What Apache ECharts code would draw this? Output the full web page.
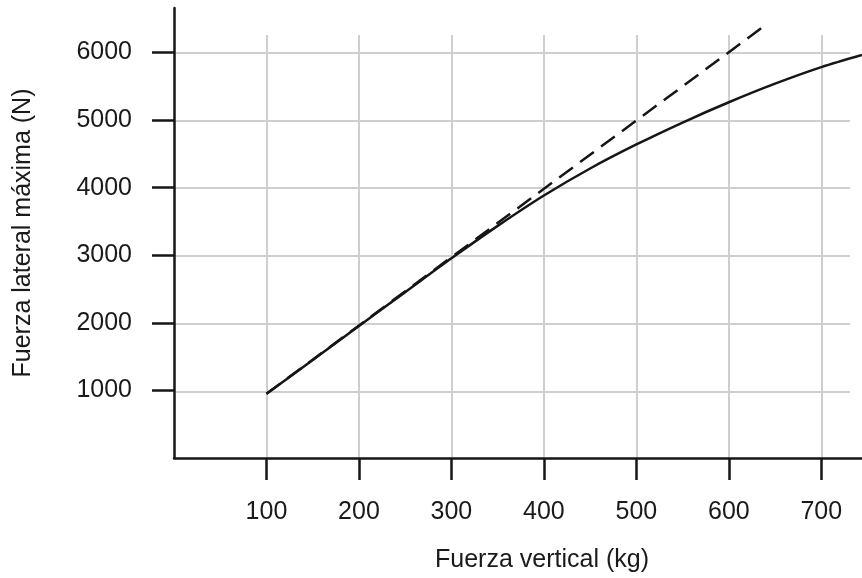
<!DOCTYPE html>
<html>
<head>
<meta charset="utf-8">
<title>Fuerza lateral máxima</title>
<script src="https://cdn.jsdelivr.net/npm/echarts@6/dist/echarts.min.js"></script>
<style>
  html, body { margin: 0; padding: 0; background: #fff; }
  #chart { width: 862px; height: 578px; }
</style>
</head>
<body>
<div id="chart"></div>
<script>
// Vertical load (kg) and the maximum lateral force it allows (N)
const loadKg      = [100, 150, 200, 250, 300, 350, 400, 450, 500, 550, 600, 650, 700, 744];
const lateralN    = [950, 1450, 1955, 2455, 2955, 3435, 3885, 4285, 4640, 4965, 5265, 5540, 5785, 5965];

// Straight proportional reference (dashed)
const linearKg    = [100, 635];
const linearN     = [950, 6360];

// Tick positions and labels
const xTicks = [100, 200, 300, 400, 500, 600, 700];
const yTicks = [1000, 2000, 3000, 4000, 5000, 6000];

const xTitle = 'Fuerza vertical (kg)';
const yTitle = 'Fuerza lateral máxima (N)';

const FONT = 'Liberation Sans, Arial, sans-serif';
const INK = '#161616';
const TEXT = '#1a1a1a';
const GRID_GRAY = '#cfcfcf';

const pair = (xs, ys) => xs.map((x, i) => [x, ys[i]]);
const plain = v => String(v);

const chart = echarts.init(document.getElementById('chart'), null, { renderer: 'canvas' });

chart.setOption({
  animation: false,
  backgroundColor: '#ffffff',
  grid: [
    // plotting area with the axes
    { left: 174, right: 0, top: 8, bottom: 119, containLabel: false },
    // light reference grid, slightly inset from the top and right
    { left: 174, right: 12, top: 35, bottom: 119, containLabel: false }
  ],
  xAxis: [
    {
      type: 'value', gridIndex: 0, min: 0, max: 744, interval: 100,
      axisLine: { show: true, onZero: false, lineStyle: { color: INK, width: 2.5 } },
      axisTick: { show: true, customValues: xTicks, length: 22, inside: false,
                  lineStyle: { color: INK, width: 2.5 } },
      axisLabel: { show: true, customValues: xTicks, margin: 42, formatter: plain,
                   color: TEXT, fontSize: 25, fontFamily: FONT },
      splitLine: { show: false },
      name: xTitle, nameLocation: 'middle', nameGap: 90,
      nameTextStyle: { color: TEXT, fontSize: 25, fontFamily: FONT, padding: [0, 0, 0, 48] }
    },
    {
      type: 'value', gridIndex: 1, min: 0, max: 731, interval: 100,
      axisLine: { show: false }, axisTick: { show: false }, axisLabel: { show: false },
      splitLine: { show: true, showMinLine: false, showMaxLine: false,
                   lineStyle: { color: GRID_GRAY, width: 2 } }
    }
  ],
  yAxis: [
    {
      type: 'value', gridIndex: 0, min: 0, max: 6660, interval: 1000,
      axisLine: { show: true, onZero: false, lineStyle: { color: INK, width: 2.5 } },
      axisTick: { show: true, customValues: yTicks, length: 22, inside: false,
                  lineStyle: { color: INK, width: 2.5 } },
      axisLabel: { show: true, customValues: yTicks, margin: 42, formatter: plain,
                   padding: [5, 0, 0, 0],
                   color: TEXT, fontSize: 25, fontFamily: FONT },
      splitLine: { show: false },
      name: yTitle, nameLocation: 'middle', nameGap: 138, nameRotate: 90,
      nameTextStyle: { color: TEXT, fontSize: 25, fontFamily: FONT }
    },
    {
      type: 'value', gridIndex: 1, min: 0, max: 6262, interval: 1000,
      axisLine: { show: false }, axisTick: { show: false }, axisLabel: { show: false },
      splitLine: { show: true, showMinLine: false, showMaxLine: false,
                   lineStyle: { color: GRID_GRAY, width: 2 } }
    }
  ],
  series: [
    {
      name: 'proporcional',
      type: 'line', xAxisIndex: 0, yAxisIndex: 0,
      data: pair(linearKg, linearN),
      showSymbol: false, silent: true,
      lineStyle: { color: INK, width: 2.5, type: [17, 9] },
      z: 3
    },
    {
      name: 'máxima',
      type: 'line', xAxisIndex: 0, yAxisIndex: 0,
      data: pair(loadKg, lateralN),
      smooth: 0.3, showSymbol: false, silent: true,
      lineStyle: { color: INK, width: 2.5 },
      z: 4
    }
  ]
});
</script>
</body>
</html>
